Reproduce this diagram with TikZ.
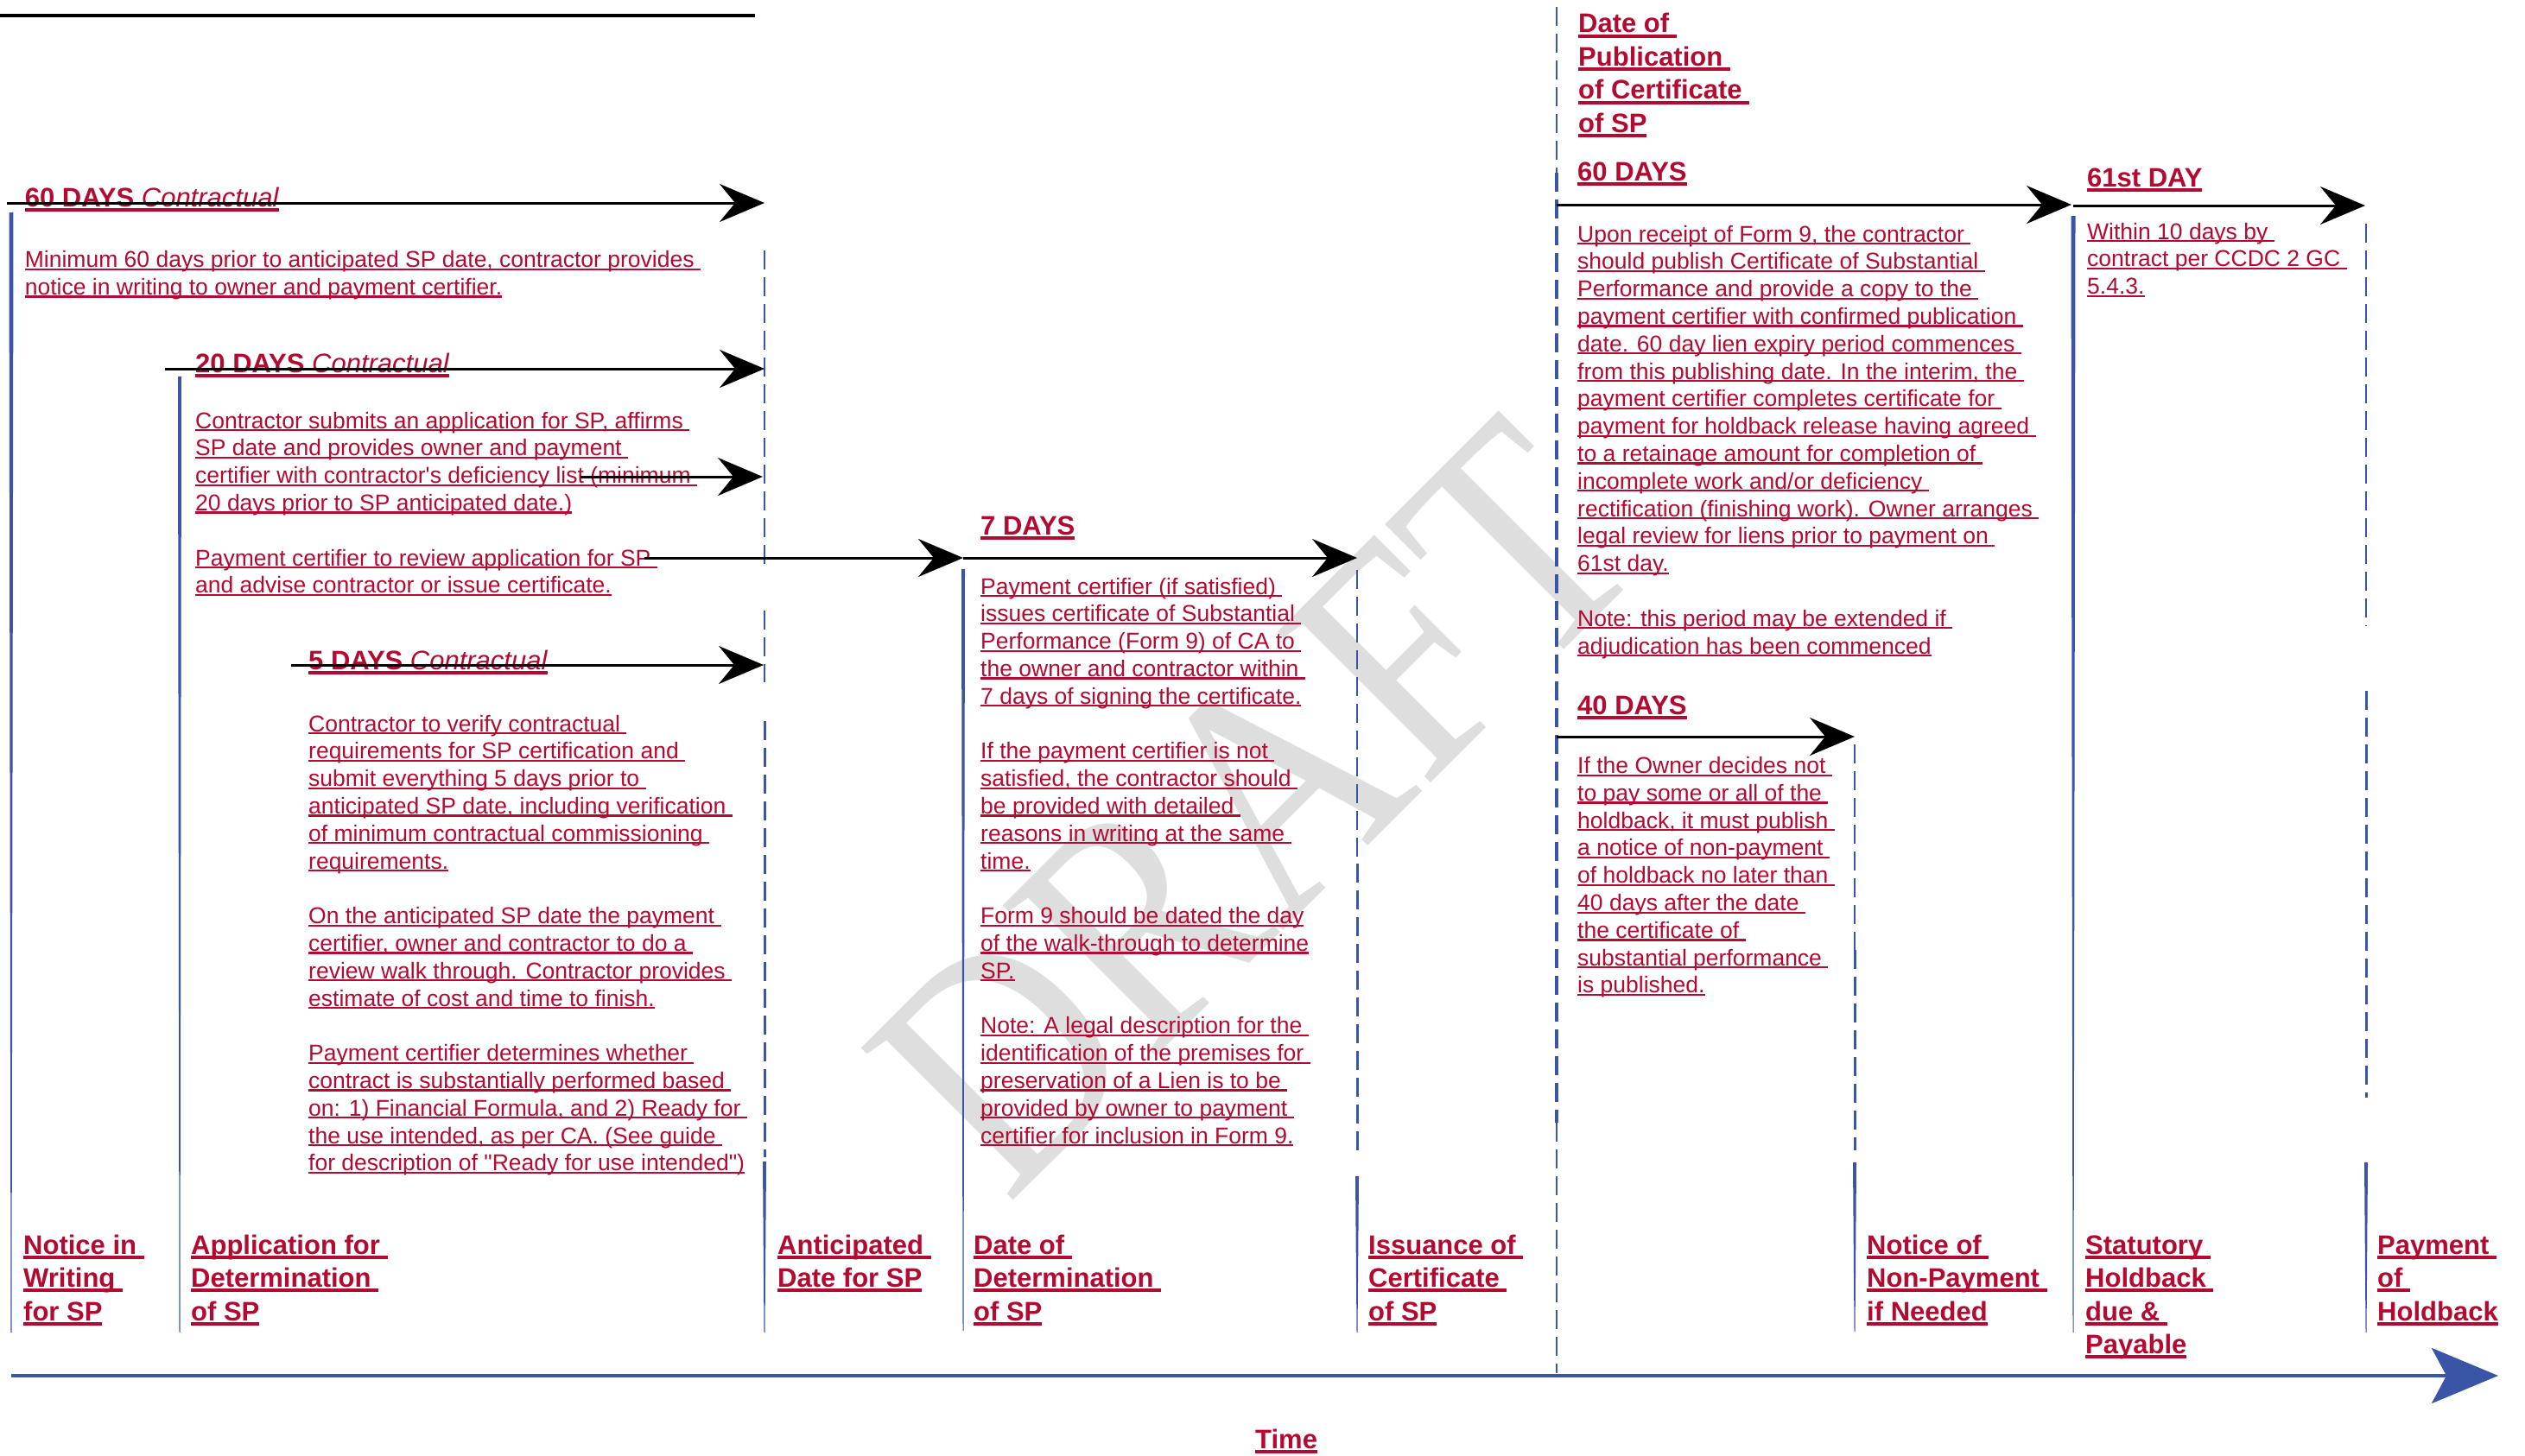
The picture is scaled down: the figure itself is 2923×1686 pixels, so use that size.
\documentclass[tikz,border=0pt]{standalone}
\usepackage{fontspec}
\setmainfont{Liberation Sans}
\newfontfamily\wmfont[FakeStretch=0.85]{Liberation Serif}
\usetikzlibrary{arrows.meta}
\definecolor{cred}{RGB}{178,10,48}
\definecolor{cblue}{RGB}{58,84,166}
\definecolor{cgray}{RGB}{222,222,222}
\newlength\uld \newlength\ulw
\setlength\uld{3.2pt}\setlength\ulw{2.2pt}
% one underlined line, with and without the trailing space
\newcommand\ulr[1]{\hbox{\setbox0\hbox{#1\ }\rlap{\rule[-\uld]{\wd0}{\ulw}}#1}}
\newcommand\ule[1]{\hbox{\setbox0\hbox{#1}\rlap{\rule[-\uld]{\wd0}{\ulw}}#1}}
% tapered blue time marker
\newcommand\bluestem[4]{\fill[cblue] ({#1-#4/2},#2) -- ({#1+#4/2},#2) -- ({#1+0.5},#3) -- ({#1-0.5},#3) -- cycle;}
\begin{document}
\begin{tikzpicture}[x=1pt,y=-1pt,
    body/.style={anchor=base west, inner sep=0pt, text=cred, font=\fontsize{26.5}{31.8}\selectfont},
    hd/.style={anchor=base west, inner sep=0pt, text=cred, font=\fontsize{31}{38.5}\selectfont\bfseries\setlength\uld{5.8pt}\setlength\ulw{4pt}},
    darr/.style={line width=3pt, -{Stealth[length=52pt,width=44pt,inset=18pt]}},
    vdash/.style={cblue, line width=2.5pt, dash pattern=on 22pt off 9pt}]
  \useasboundingbox (0,0) rectangle (2923,1686);

  % watermark
  \node[text=cgray, rotate=45, inner sep=0pt, font=\wmfont\fontsize{380}{380}\selectfont] (draft) at (1452,934) {DRAFT};

  % top rule
  \coordinate (tl) at (0,18);
  \coordinate (tr) at (874,18);
  \draw[line width=4pt] (tl)--(tr);

  % time markers
  \bluestem{13}{246}{1543}{5}
  \bluestem{208}{436}{1543}{4}
  \draw[vdash, line width=1.5pt] (885,290)--(885,660);
  \draw[vdash] (885,707)--(885,790);
  \draw[vdash, line width=3pt] (885,835)--(885,1340);
  \bluestem{885}{1345}{1543}{4}
  \bluestem{1115}{659}{1541}{4}
  \draw[vdash, line width=1.5pt] (1571,660)--(1571,1000);
  \draw[vdash, line width=3pt] (1571,1000)--(1571,1332);
  \bluestem{1571}{1362}{1543}{4}
  \draw[vdash, line width=1.5pt] (1802,8)--(1802,200);
  \draw[vdash, line width=4pt] (1802,200)--(1802,1300);
  \draw[vdash, line width=2.5pt] (1802,1300)--(1802,1590);
  \draw[vdash, line width=1.5pt] (2147,862)--(2147,1100);
  \draw[vdash, line width=3pt] (2147,1100)--(2147,1332);
  \bluestem{2147}{1346}{1542}{4}
  \bluestem{2400}{250}{1543}{5}
  \draw[vdash, line width=1.5pt] (2739,259)--(2739,725);
  \draw[vdash, line width=3pt] (2739,800)--(2739,1271);
  \bluestem{2739}{1346}{1543}{4}

  % time axis
  \coordinate (ax0) at (13,1593);
  \coordinate (ax1) at (2892,1593);
  \draw[cblue, line width=4.5pt, -{Stealth[length=77pt,width=64pt,inset=17pt]}] (ax0)--(ax1);
  \node[hd] (time) at (1453,1677) {\ule{Time}};

  % labels under the markers
  \node[hd] (notice) at (27,1452) {\vtop{\ulr{Notice in}\ulr{Writing}\ule{for SP}}};
  \node[hd] (applic) at (221,1452) {\vtop{\ulr{Application for}\ulr{Determination}\ule{of SP}}};
  \node[hd] (antic) at (900,1452) {\vtop{\ulr{Anticipated}\ule{Date for SP}}};
  \node[hd] (determ) at (1127,1452) {\vtop{\ulr{Date of}\ulr{Determination}\ule{of SP}}};
  \node[hd] (issue) at (1584,1452) {\vtop{\ulr{Issuance of}\ulr{Certificate}\ule{of SP}}};
  \node[hd] (nonpay) at (2161,1452) {\vtop{\ulr{Notice of}\ulr{Non-Payment}\ule{if Needed}}};
  \node[hd] (statut) at (2414,1452) {\vtop{\ulr{Statutory}\ulr{Holdback}\ulr{due \&}\ule{Payable}}};
  \node[hd] (payhb) at (2752,1452) {\vtop{\ulr{Payment}\ulr{of}\ule{Holdback}}};
  \node[hd] (publ) at (1827,38) {\vtop{\ulr{Date of}\ulr{Publication}\ulr{of Certificate}\ule{of SP}}};

  % periods
  \node[hd] (h60c) at (28.7,239.5) {\ule{60 DAYS \textit{\mdseries Contractual}}};
  \node[body] (p60c) at (28.7,309.5) {\vtop{
    \ulr{Minimum 60 days prior to anticipated SP date, contractor provides}
    \ule{notice in writing to owner and payment certifier.}}};

  \node[hd] (h20c) at (226,431) {\ule{20 DAYS \textit{\mdseries Contractual}}};
  \node[body] (p20c) at (226,496) {\vtop{
    \ulr{Contractor submits an application for SP, affirms}
    \ulr{SP date and provides owner and payment}
    \ulr{certifier with contractor\textquotesingle s deficiency list (minimum}
    \ule{20 days prior to SP anticipated date.)}
    \hbox{}
    \ulr{Payment certifier to review application for SP}
    \ule{and advise contractor or issue certificate.}}};

  \node[hd] (h5c) at (357,775) {\ule{5 DAYS \textit{\mdseries Contractual}}};
  \node[body] (p5c) at (357,847) {\vtop{
    \ulr{Contractor to verify contractual}
    \ulr{requirements for SP certification and}
    \ulr{submit everything 5 days prior to}
    \ulr{anticipated SP date, including verification}
    \ulr{of minimum contractual commissioning}
    \ule{requirements.}
    \hbox{}
    \ulr{On the anticipated SP date the payment}
    \ulr{certifier, owner and contractor to do a}
    \ulr{review walk through. Contractor provides}
    \ule{estimate of cost and time to finish.}
    \hbox{}
    \ulr{Payment certifier determines whether}
    \ulr{contract is substantially performed based}
    \ulr{on: 1) Financial Formula, and 2) Ready for}
    \ulr{the use intended, as per CA. (See guide}
    \ule{for description of \textquotedbl Ready for use intended\textquotedbl)}}};

  \node[hd] (h7) at (1135,619) {\ule{7 DAYS}};
  \node[body] (p7) at (1135,688) {\vtop{
    \ulr{Payment certifier (if satisfied)}
    \ulr{issues certificate of Substantial}
    \ulr{Performance (Form 9) of CA to}
    \ulr{the owner and contractor within}
    \ule{7 days of signing the certificate.}
    \hbox{}
    \ulr{If the payment certifier is not}
    \ulr{satisfied, the contractor should}
    \ulr{be provided with detailed}
    \ulr{reasons in writing at the same}
    \ule{time.}
    \hbox{}
    \ule{Form 9 should be dated the day}
    \ule{of the walk-through to determine}
    \ule{SP.}
    \hbox{}
    \ulr{Note: A legal description for the}
    \ulr{identification of the premises for}
    \ulr{preservation of a Lien is to be}
    \ulr{provided by owner to payment}
    \ule{certifier for inclusion in Form 9.}}};

  \node[hd] (h60) at (1826,209) {\ule{60 DAYS}};
  \node[body] (p60) at (1826,280) {\vtop{
    \ulr{Upon receipt of Form 9, the contractor}
    \ulr{should publish Certificate of Substantial}
    \ulr{Performance and provide a copy to the}
    \ulr{payment certifier with confirmed publication}
    \ulr{date. 60 day lien expiry period commences}
    \ulr{from this publishing date. In the interim, the}
    \ulr{payment certifier completes certificate for}
    \ulr{payment for holdback release having agreed}
    \ulr{to a retainage amount for completion of}
    \ulr{incomplete work and/or deficiency}
    \ulr{rectification (finishing work). Owner arranges}
    \ulr{legal review for liens prior to payment on}
    \ule{61st day.}
    \hbox{}
    \ulr{Note: this period may be extended if}
    \ule{adjudication has been commenced}}};

  \node[hd] (h40) at (1826,827) {\ule{40 DAYS}};
  \node[body] (p40) at (1826,895.5) {\vtop{
    \ulr{If the Owner decides not}
    \ulr{to pay some or all of the}
    \ulr{holdback, it must publish}
    \ulr{a notice of non-payment}
    \ulr{of holdback no later than}
    \ulr{40 days after the date}
    \ulr{the certificate of}
    \ulr{substantial performance}
    \ule{is published.}}};

  \node[hd] (h61) at (2416,216) {\ule{61st DAY}};
  \node[body] (p61) at (2416,277) {\vtop{
    \ulr{Within 10 days by}
    \ulr{contract per CCDC 2 GC}
    \ule{5.4.3.}}};

  % period arrows
  \coordinate (a60s) at (8,235);     \coordinate (a60e) at (885,235);
  \coordinate (a20s) at (191,427);   \coordinate (a20e) at (885,427);
  \coordinate (amins) at (672,552);  \coordinate (amine) at (883,552);
  \coordinate (arevs) at (746,646);  \coordinate (areve) at (1115,646);
  \coordinate (a5s) at (337,770);    \coordinate (a5e) at (884,770);
  \coordinate (a7e) at (1571,646);
  \coordinate (b60s) at (1802,237);  \coordinate (b60e) at (2398,237);
  \coordinate (b40s) at (1802,853);  \coordinate (b40e) at (2147,853);
  \coordinate (b61s) at (2400,238);  \coordinate (b61e) at (2738,238);

  \draw[darr] (a60s)--(a60e);
  \draw[darr] (a20s)--(a20e);
  \draw[darr] (amins)--(amine);
  \draw[darr] (arevs)--(areve);
  \draw[darr] (a5s)--(a5e);
  \draw[darr] (areve)--(a7e);
  \draw[darr] (b60s)--(b60e);
  \draw[darr] (b40s)--(b40e);
  \draw[darr] (b61s)--(b61e);
\end{tikzpicture}
\end{document}
